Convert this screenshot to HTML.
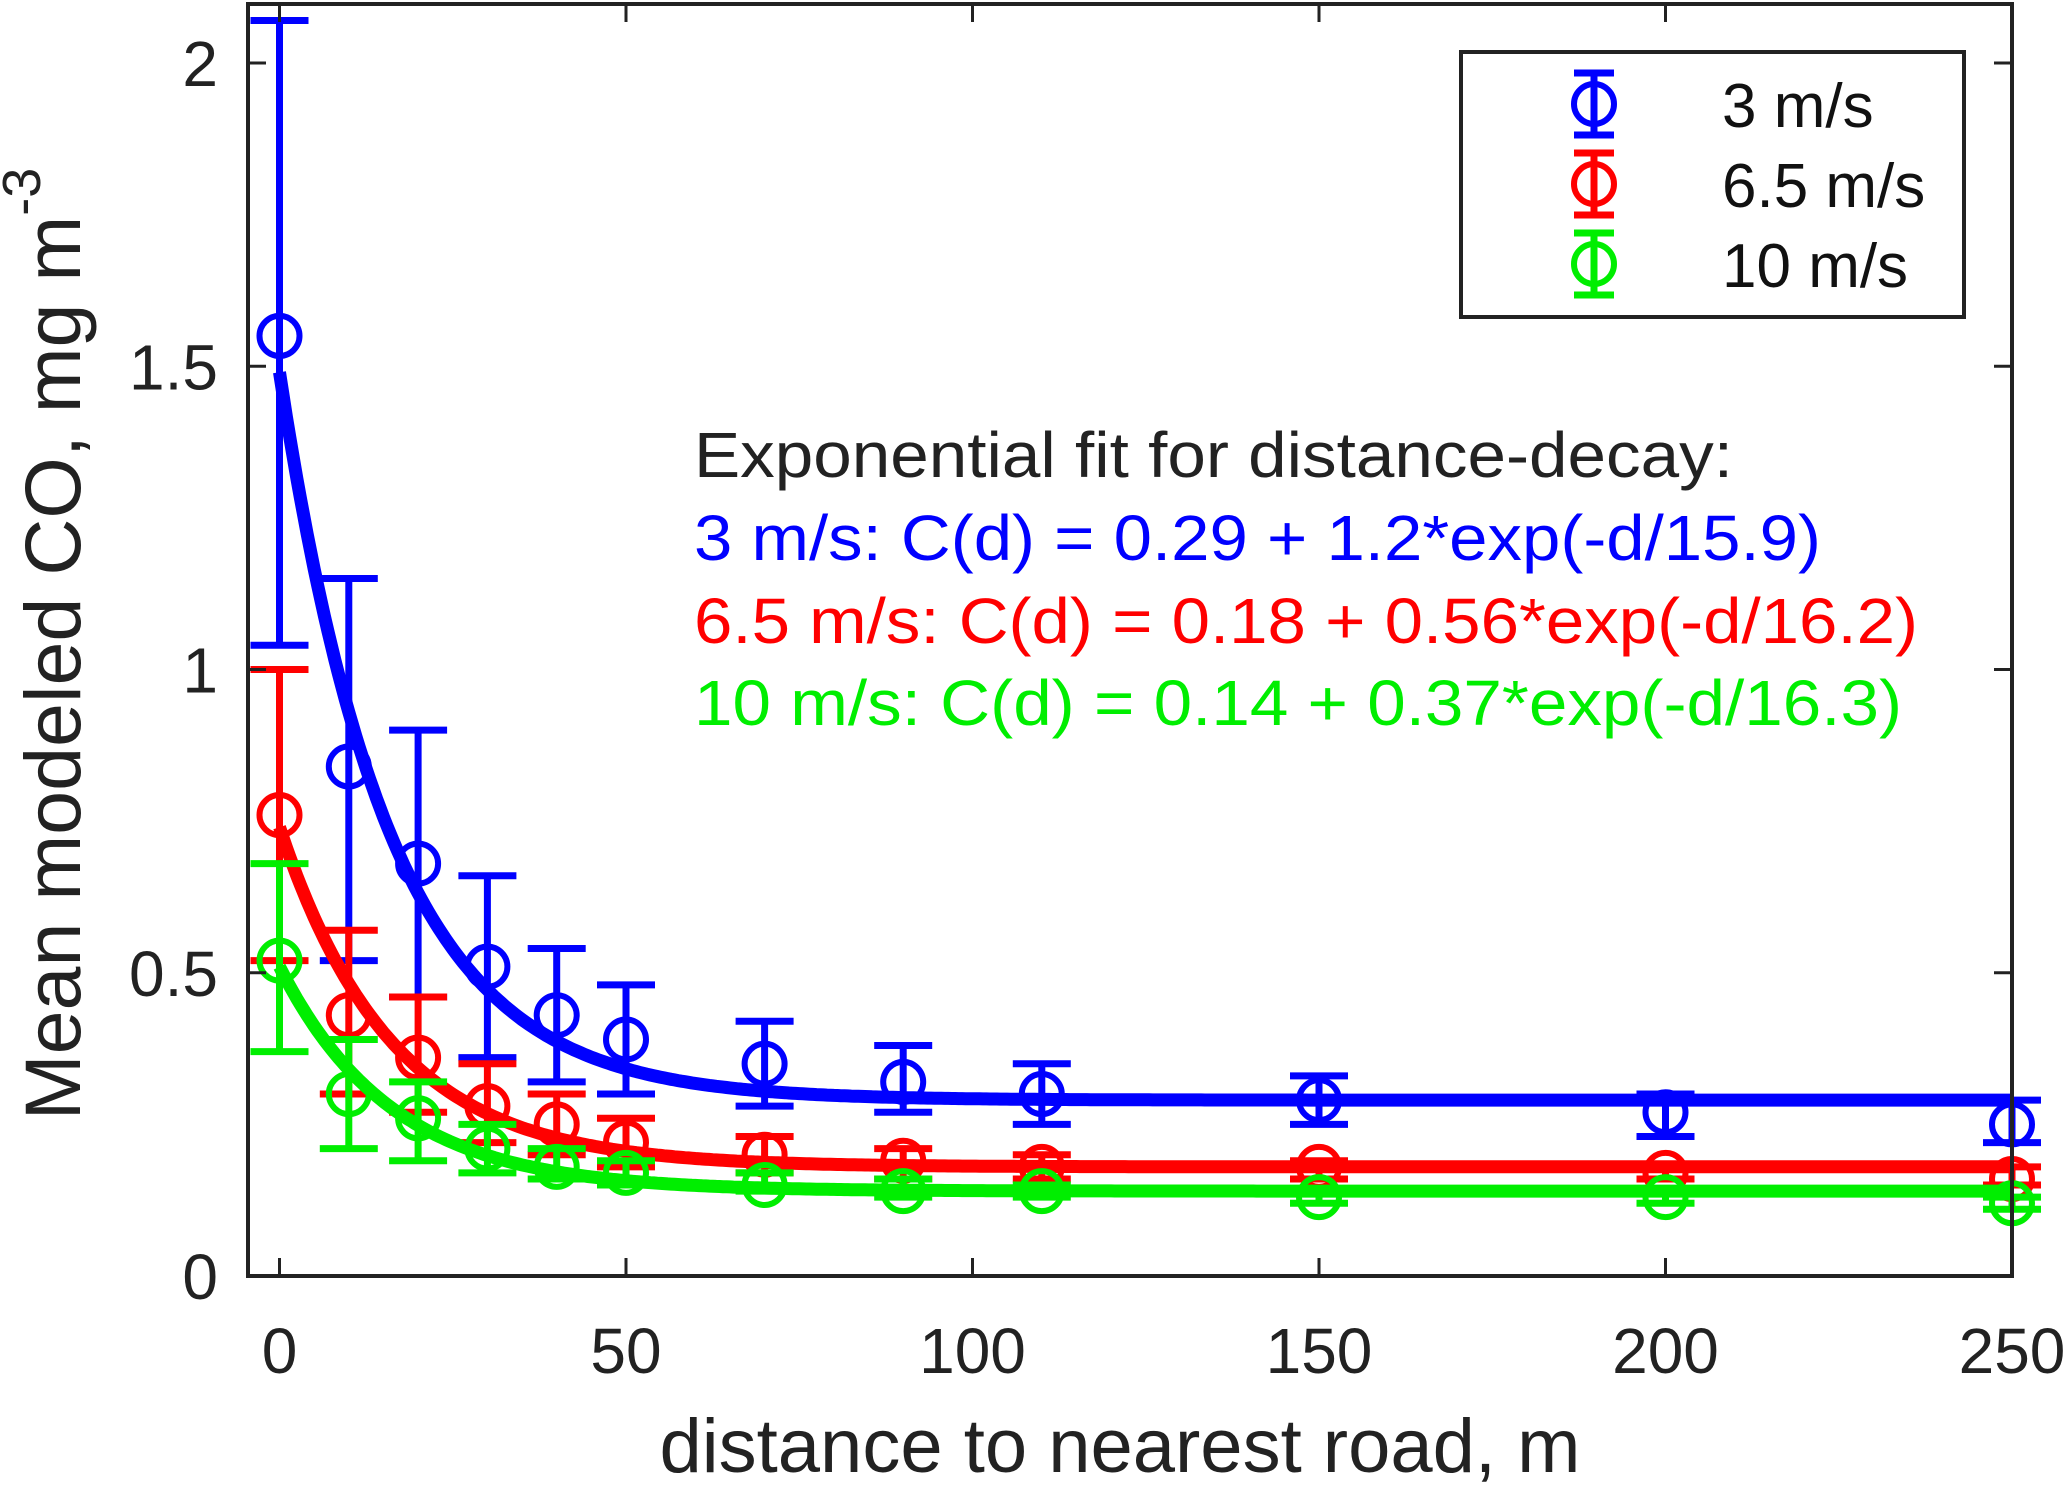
<!DOCTYPE html>
<html><head><meta charset="utf-8"><style>
body{margin:0;background:#fff}
svg{display:block;font-family:"Liberation Sans",Arial,sans-serif}
</style></head><body>
<svg id="chart" width="2067" height="1491" viewBox="0 0 2067 1491" xmlns="http://www.w3.org/2000/svg">
<g id="marks"></g>
<rect x="248" y="4" width="1764" height="1272" fill="none" stroke="#222" stroke-width="4"/>
<g id="axes"></g>
<text transform="translate(80,644) rotate(-90)" text-anchor="middle" font-size="79" fill="#222">Mean modeled CO, mg m<tspan dy="-40" font-size="54">-3</tspan></text>
<text x="1120" y="1472" text-anchor="middle" font-size="76" fill="#222">distance to nearest road, m</text>
<g font-size="64">
<text x="694" y="477" fill="#222" textLength="1039" lengthAdjust="spacingAndGlyphs">Exponential fit for distance-decay:</text>
<text x="694" y="560" fill="#0000ff" textLength="1127" lengthAdjust="spacingAndGlyphs">3 m/s: C(d) = 0.29 + 1.2*exp(-d/15.9)</text>
<text x="694" y="643" fill="#ff0000" textLength="1224" lengthAdjust="spacingAndGlyphs">6.5 m/s: C(d) = 0.18 + 0.56*exp(-d/16.2)</text>
<text x="694" y="725" fill="#00ee00" textLength="1208" lengthAdjust="spacingAndGlyphs">10 m/s: C(d) = 0.14 + 0.37*exp(-d/16.3)</text>
</g>
<g id="legend">
<rect x="1461" y="52" width="503" height="265" fill="#fff" stroke="#222" stroke-width="4"/>
</g>
</svg>
<script>
const xs=[0,10,20,30,40,50,70,90,110,150,200,250];
const blueMean=[1.55,0.84,0.68,0.51,0.43,0.39,0.35,0.32,0.30,0.29,0.27,0.25];
const blueLo=[1.04,0.52,0.46,0.36,0.32,0.30,0.28,0.27,0.25,0.25,0.23,0.22];
const blueHi=[2.07,1.15,0.90,0.66,0.54,0.48,0.42,0.38,0.35,0.33,0.30,0.29];
const redMean=[0.76,0.43,0.36,0.28,0.25,0.22,0.20,0.19,0.18,0.18,0.17,0.16];
const redLo=[0.52,0.30,0.27,0.22,0.20,0.18,0.17,0.16,0.16,0.16,0.16,0.15];
const redHi=[1.00,0.57,0.46,0.35,0.30,0.26,0.23,0.21,0.20,0.19,0.18,0.18];
const greenMean=[0.52,0.30,0.26,0.21,0.18,0.17,0.15,0.14,0.14,0.13,0.13,0.12];
const greenLo=[0.37,0.21,0.19,0.17,0.16,0.15,0.14,0.13,0.13,0.12,0.12,0.11];
const greenHi=[0.68,0.39,0.32,0.25,0.21,0.19,0.17,0.16,0.15,0.14,0.14,0.13];
const fitBase=[0.29,0.18,0.14];
const fitAmp=[1.2,0.56,0.37];
const fitScale=[15.9,16.2,16.3];
const seriesNames=['3 m/s','6.5 m/s','10 m/s'];
const xTicks=[0,50,100,150,200,250];
const yTicks=[0,0.5,1,1.5,2];
const yTickLabels=['0','0.5','1','1.5','2'];

const NS='http://www.w3.org/2000/svg';
const X=v=>279.5+(v/250)*(2012-279.5);
const Y=v=>1276-(v/2)*(1276-63);
function mk(tag,attrs,parent){const e=document.createElementNS(NS,tag);for(const k in attrs)e.setAttribute(k,attrs[k]);parent.appendChild(e);return e;}
const marks=document.getElementById('marks');
const axes=document.getElementById('axes');
const colors=['#0000ff','#ff0000','#00ee00'];
const keys=['3ms','6-5ms','10ms'];
const means=[blueMean,redMean,greenMean],los=[blueLo,redLo,greenLo],his=[blueHi,redHi,greenHi];

for(let s=0;s<3;s++){
  const g=mk('g',{},marks);
  
  
  let d='';
  for(let i=0;i<=500;i++){const v=i/2;const c=fitBase[s]+fitAmp[s]*Math.exp(-v/fitScale[s]);d+=(i?'L':'M')+X(v).toFixed(1)+' '+Y(c).toFixed(1);}
  const fit=mk('path',{d:d,fill:'none',stroke:colors[s],'stroke-width':13},g);
  
  
  for(let i=0;i<xs.length;i++){
    const x=X(xs[i]);
    const eb=mk('path',{d:`M${x} ${Y(los[s][i])}V${Y(his[s][i])}M${x-29} ${Y(los[s][i])}H${x+29}M${x-29} ${Y(his[s][i])}H${x+29}`,stroke:colors[s],'stroke-width':7,fill:'none'},g);
    
    
    const c=mk('circle',{cx:x,cy:Y(means[s][i]),r:20,fill:'none',stroke:colors[s],'stroke-width':6},g);
    
    
  }
}
for(const t of xTicks){
  const x=X(t);
  const tk=mk('path',{d:`M${x} 1276V1258M${x} 4V22`,stroke:'#222','stroke-width':3},axes);
  
  
  const lb=mk('text',{x:x,y:1373,'text-anchor':'middle','font-size':64,fill:'#222'},axes);
  lb.textContent=String(t);
  
  
}
yTicks.forEach((t,i)=>{
  const y=Y(t);
  const tk=mk('path',{d:`M248 ${y}H266M2012 ${y}H1994`,stroke:'#222','stroke-width':3},axes);
  
  
  const lb=mk('text',{x:218,y:y+23,'text-anchor':'end','font-size':64,fill:'#222'},axes);
  lb.textContent=yTickLabels[i];
  
  
});
const legend=document.getElementById('legend');
const rowY=[104,184,264];
for(let s=0;s<3;s++){
  const g=mk('g',{},legend);
  
  
  const y=rowY[s];
  mk('path',{d:`M1594 ${y-32}V${y+32}M1574 ${y-31}H1614M1574 ${y+31}H1614`,stroke:colors[s],'stroke-width':7,fill:'none'},g);
  mk('circle',{cx:1594,cy:y,r:20,fill:'none',stroke:colors[s],'stroke-width':6},g);
  const t=mk('text',{x:1722,y:y+23,'font-size':62,fill:'#111'},g);
  t.textContent=seriesNames[s];
}
</script>
</body></html>
